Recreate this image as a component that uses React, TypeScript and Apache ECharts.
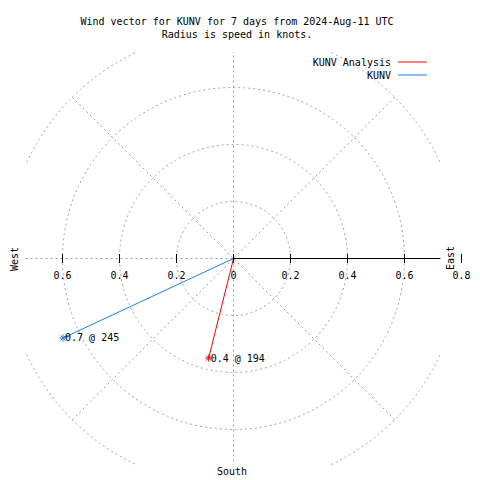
import React, { useEffect, useRef } from 'react';
import * as echarts from 'echarts';

// ---- data ----
const seriesNames = ['KUNV Analysis', 'KUNV'];
const seriesColors = ['#ff0000', '#1e80e8'];
const speeds = [0.36, 0.66]; // knots
const directions = [194, 245]; // degrees
const axisTickValues = [-0.6, -0.4, -0.2, 0, 0.2, 0.4, 0.6, 0.8];
const ringMax = 0.8;
const ringStep = 0.2;
const spokeStep = 45;
const compassLabels = ['West', 'East', 'South'];
const titleLines = ['Wind vector for KUNV for 7 days from 2024-Aug-11 UTC', 'Radius is speed in knots.'];

const FONT = "'DejaVu Sans Mono', 'Liberation Mono', monospace";
const GRID_COLOR = '#a0a0a0';

export default function App() {
  const ref = useRef<HTMLDivElement>(null);
  useEffect(() => {
    if (!ref.current) return;
    const chart = echarts.init(ref.current, null, { renderer: 'svg' });
    const cx = 233.5;
    const cy = 258.5;
    const R = 228;
    const pxPerUnit = R / ringMax;
    const asterisk = 'path://M0,3.5L7,3.5M3.5,0L3.5,7M1,1L6,6M6,1L1,6';

    const series: any[] = seriesNames.map((name, i) => ({
      name,
      type: 'line',
      coordinateSystem: 'polar',
      polarIndex: 0,
      z: 3,
      data: [
        { value: [0, directions[i]], symbol: 'none' },
        {
          value: [speeds[i], directions[i]],
          symbol: asterisk,
          symbolSize: 7,
          label: {
            show: true,
            position: 'right',
            distance: 0,
            offset: [-2, 0],
            fontFamily: FONT,
            fontSize: 10,
            color: '#000',
            formatter: () => `${speeds[i].toFixed(1)} @ ${directions[i]}`,
          },
        },
      ],
      lineStyle: { color: seriesColors[i], width: 1 },
      itemStyle: { color: seriesColors[i], borderColor: seriesColors[i], borderWidth: 1 },
      emphasis: { disabled: true },
    }));

    // axis tick marks along the east-west line, placed through the polar radius scale
    series.push({
      name: 'ticks',
      type: 'scatter',
      coordinateSystem: 'polar',
      polarIndex: 0,
      symbol: 'rect',
      symbolSize: [1, 9],
      itemStyle: { color: '#000', opacity: 1 },
      z: 10,
      silent: true,
      clip: false,
      data: axisTickValues.map((v) => [Math.abs(v), v < 0 ? 270 : 90]),
    });

    const tickMin = axisTickValues[0];
    const tickMax = axisTickValues[axisTickValues.length - 1];

    chart.setOption({
      animation: false,
      title: {
        text: titleLines.join('\n'),
        left: 232,
        top: 10,
        textAlign: 'center',
        z: 6,
        textStyle: { fontFamily: FONT, fontSize: 10, fontWeight: 'normal', color: '#000', lineHeight: 13 },
      },
      legend: {
        orient: 'vertical',
        right: 48,
        top: 51,
        align: 'right',
        icon: 'rect',
        itemWidth: 29,
        itemHeight: 1,
        itemGap: 1,
        z: 6,
        itemStyle: { borderWidth: 0 },
        textStyle: { fontFamily: FONT, fontSize: 10, color: '#000', lineHeight: 12, padding: [0, 2, 0, 0] },
        data: seriesNames,
      },
      polar: { center: [cx, cy], radius: R },
      angleAxis: {
        type: 'value',
        min: 0,
        max: 360,
        interval: spokeStep,
        startAngle: 90,
        clockwise: true,
        axisLine: { show: false },
        axisTick: { show: false },
        axisLabel: { show: false },
        splitLine: { show: true, lineStyle: { color: GRID_COLOR, width: 1, type: [2, 3] } },
        z: 0,
      },
      radiusAxis: {
        type: 'value',
        min: 0,
        max: ringMax,
        interval: ringStep,
        axisLine: { show: false },
        axisTick: { show: false },
        axisLabel: { show: false },
        splitLine: { show: true, lineStyle: { color: GRID_COLOR, width: 1, type: [2, 3] } },
        z: 0,
      },
      grid: [
        {
          left: cx + tickMin * pxPerUnit,
          width: (tickMax - tickMin) * pxPerUnit,
          top: cy - 100,
          height: 200,
          show: false,
        },
        {
          left: cx,
          width: 440 - cx,
          top: 0,
          height: cy,
          show: false,
        },
      ],
      xAxis: [
        {
          type: 'value',
          gridIndex: 0,
          min: tickMin,
          max: tickMax,
          interval: 0.2,
          position: 'bottom',
          offset: -100,
          z: 2,
          axisLine: { show: false, onZero: false },
          axisTick: { show: false },
          splitLine: { show: false },
          axisLabel: {
            show: true,
            margin: 12,
            fontFamily: FONT,
            fontSize: 10,
            color: '#000',
            showMinLabel: true,
            showMaxLabel: true,
            formatter: (v: number) => String(Math.abs(Math.round(v * 10) / 10)),
          },
        },
        {
          type: 'value',
          gridIndex: 1,
          min: 0,
          max: 1,
          position: 'bottom',
          z: 4,
          axisLine: { show: true, onZero: false, lineStyle: { color: '#000', width: 1 } },
          axisTick: { show: false },
          axisLabel: { show: false },
          splitLine: { show: false },
        },
      ],
      yAxis: [
        { type: 'value', gridIndex: 0, min: -1, max: 1, show: false },
        { type: 'value', gridIndex: 1, min: 0, max: 1, show: false },
      ],
      graphic: {
        elements: [
          { type: 'rect', z: 1, silent: true, shape: { x: 0, y: 0, width: 480, height: 52 }, style: { fill: '#fff' } },
          { type: 'rect', z: 1, silent: true, shape: { x: 0, y: 465, width: 480, height: 15 }, style: { fill: '#fff' } },
          { type: 'rect', z: 1, silent: true, shape: { x: 0, y: 0, width: 26, height: 480 }, style: { fill: '#fff' } },
          { type: 'rect', z: 1, silent: true, shape: { x: 440, y: 0, width: 40, height: 480 }, style: { fill: '#fff' } },
          {
            type: 'text', z: 5, x: 14, y: 259, rotation: Math.PI / 2,
            style: { text: compassLabels[0], font: `10px ${FONT}`, fill: '#000', align: 'center', verticalAlign: 'middle' },
          },
          {
            type: 'text', z: 5, x: 450, y: 258, rotation: Math.PI / 2,
            style: { text: compassLabels[1], font: `10px ${FONT}`, fill: '#000', align: 'center', verticalAlign: 'middle' },
          },
          {
            type: 'text', z: 5, x: 232, y: 471,
            style: { text: compassLabels[2], font: `10px ${FONT}`, fill: '#000', align: 'center', verticalAlign: 'middle' },
          },
        ],
      },
      series,
    });
    return () => chart.dispose();
  }, []);
  return <div ref={ref} style={{ position: 'fixed', left: 0, top: 0, width: 480, height: 480, background: '#fff' }} />;
}
